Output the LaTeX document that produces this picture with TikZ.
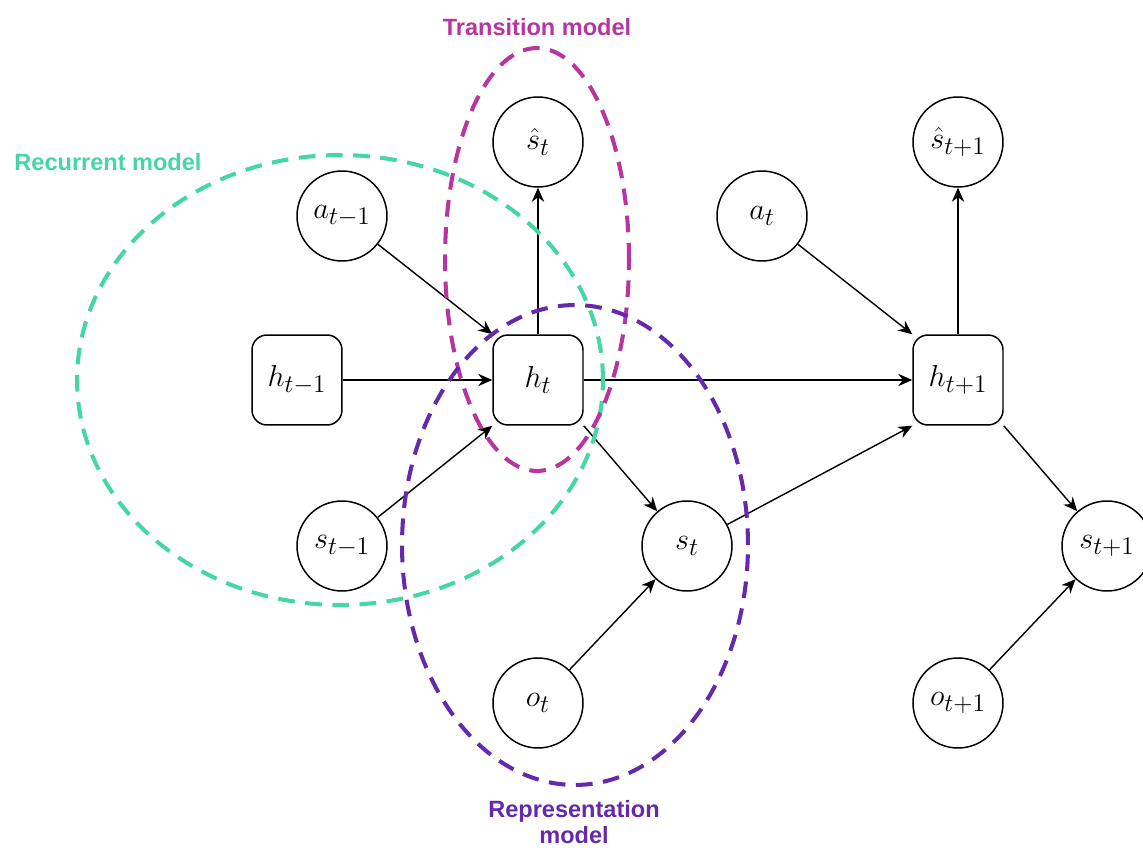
\documentclass[tikz,border=0pt]{standalone}
\usepackage{fontspec}
\newfontfamily\labelfont{Liberation Sans}
\usetikzlibrary{arrows.meta}
\definecolor{recgreen}{HTML}{44D6A5}
\definecolor{transmag}{HTML}{B8349F}
\definecolor{reppurple}{HTML}{6529AC}
\tikzset{
  var/.style={circle, draw=black, line width=0.85pt, fill=white, minimum size=1.8cm, inner sep=0pt,
    font=\fontsize{19}{22}\selectfont},
  hid/.style={rectangle, rounded corners=0.3cm, draw=black, line width=0.85pt, fill=white, minimum size=1.8cm, inner sep=0pt,
    font=\fontsize{19}{22}\selectfont},
  link/.style={-{Stealth[length=8pt,width=7pt]}, line width=0.8pt, black},
  group/.style={line width=2.3pt, dash pattern=on 9.5pt off 6pt},
  grouplabel/.style={font=\labelfont\bfseries\fontsize{13.4}{16}\selectfont, align=center, inner sep=0pt}
}
\begin{document}
\begin{tikzpicture}[x=0.02cm, y=-0.02cm]
  \useasboundingbox (0,0) rectangle (1143,848);
  \clip (0,0) rectangle (1143,848);

  % time step t-1
  \node[var] (a1) at (342,216) {$a_{t-1}$};
  \node[hid] (h1) at (297,380) {$h_{t-1}$};
  \node[var] (s1) at (342,546) {$s_{t-1}$};

  % time step t
  \node[var] (sh2) at (538,142) {$\hat{s}_t$};
  \node[hid] (h2) at (538,380) {$h_t$};
  \node[var] (a2) at (762,216) {$a_t$};
  \node[var] (s2) at (687,546) {$s_t$};
  \node[var] (o2) at (538,703) {$o_t$};

  % time step t+1
  \node[var] (sh3) at (958,142) {$\hat{s}_{t+1}$};
  \node[hid] (h3) at (958,380) {$h_{t+1}$};
  \node[var] (s3) at (1107,546) {$s_{t+1}$};
  \node[var] (o3) at (958,703) {$o_{t+1}$};

  % connections
  \draw[link] (a1) -- (h2.north west);
  \draw[link] (h1) -- (h2);
  \draw[link] (s1) -- (h2.south west);
  \draw[link] (h2) -- (sh2);
  \draw[link] (h2.south east) -- (s2);
  \draw[link] (h2) -- (h3);
  \draw[link] (o2) -- (s2);
  \draw[link] (a2) -- (h3.north west);
  \draw[link] (s2) -- (h3.south west);
  \draw[link] (h3) -- (sh3);
  \draw[link] (h3.south east) -- (s3);
  \draw[link] (o3) -- (s3);

  % model groupings
  \draw[group, recgreen] (340,380) ellipse [x radius=5.26cm, y radius=4.5cm];
  \draw[group, transmag] (537,259.5) ellipse [x radius=1.84cm, y radius=4.23cm];
  \draw[group, reppurple] (575,545) ellipse [x radius=3.46cm, y radius=4.8cm];

  \node[grouplabel, text=transmag] (tlab) at (537,27) {Transition model};
  \node[grouplabel, text=recgreen] (rlab) at (108,162) {Recurrent model};
  \node[grouplabel, text=reppurple] (plab) at (574,822) {Representation\\[-1pt]model};
\end{tikzpicture}
\end{document}
